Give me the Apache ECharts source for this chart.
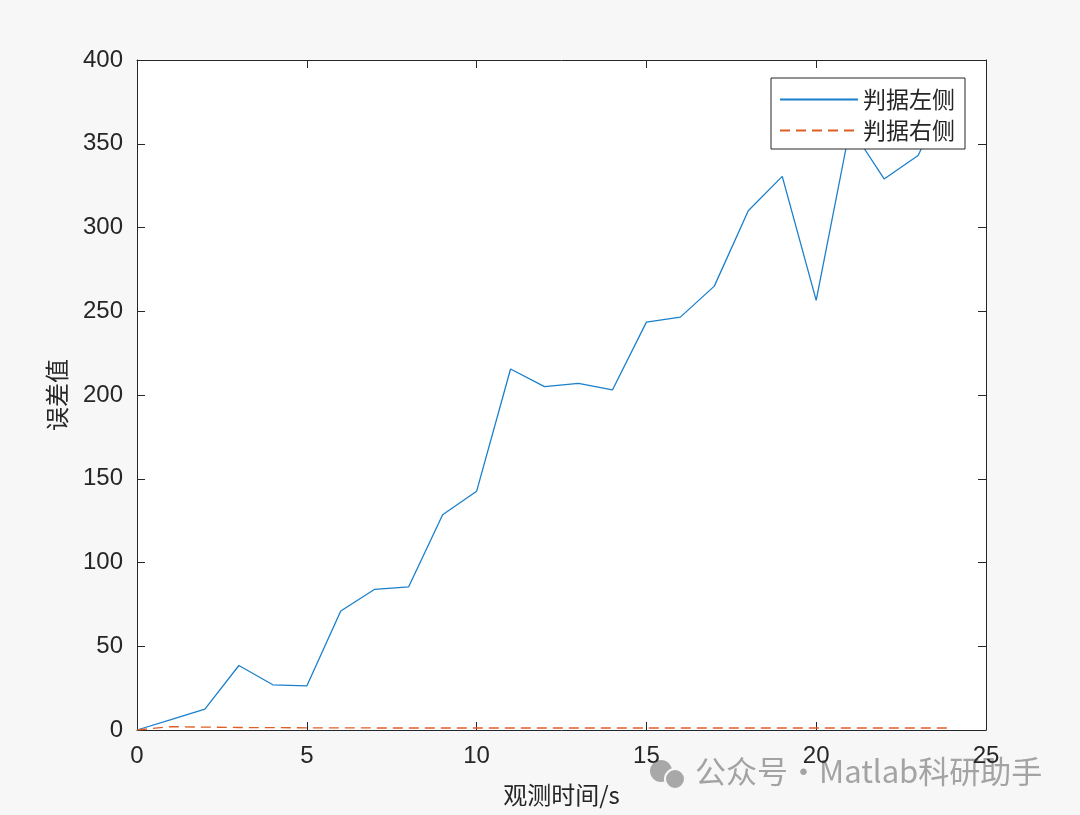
<!DOCTYPE html>
<html>
<head>
<meta charset="utf-8">
<script src="https://cdn.jsdelivr.net/npm/echarts@6/dist/echarts.min.js"></script>
<style>
  html, body { margin: 0; padding: 0; background: #f7f7f7; }
  #chart { width: 1080px; height: 815px; }
</style>
</head>
<body>
<div id="chart"></div>
<script>
// observation time (s)
const timeSteps = [0, 1, 2, 3, 4, 5, 6, 7, 8, 9, 10, 11, 12, 13, 14, 15, 16, 17, 18, 19, 20, 21, 22, 23, 24];
// error when judging from the left side
const leftError = [0, 6.2, 12.5, 38.5, 27, 26.3, 71, 84, 85.5, 128.5, 142.5, 215.5, 205, 207, 203, 243.5, 246.5, 265, 310, 330.5, 256.5, 360, 329, 343, 385];
// error when judging from the right side
const rightError = [0, 2.0, 1.7, 1.5, 1.4, 1.3, 1.3, 1.2, 1.2, 1.2, 1.2, 1.2, 1.2, 1.2, 1.2, 1.2, 1.2, 1.2, 1.2, 1.2, 1.2, 1.2, 1.2, 1.2, 1.2];
const seriesNames = ['判据左侧', '判据右侧'];
const xLabel = '观测时间/s';
const yLabel = '误差值';

const chart = echarts.init(document.getElementById('chart'), null, { renderer: 'canvas' });
const axisColor = '#262626';
const blue = '#1a80cc';
const orange = '#dd5f26';
const tickFont = { color: '#262626', fontSize: 24, fontFamily: 'Liberation Sans, Arial, sans-serif' };

const xBase = {
  type: 'value', min: 0, max: 25, interval: 5,
  axisLine: { show: true, onZero: false, lineStyle: { color: axisColor, width: 1 } },
  axisTick: { show: true, inside: true, length: 8, lineStyle: { color: axisColor } },
  splitLine: { show: false }
};
const yBase = {
  type: 'value', min: 0, max: 400, interval: 50,
  axisLine: { show: true, onZero: false, lineStyle: { color: axisColor, width: 1 } },
  axisTick: { show: true, inside: true, length: 8, lineStyle: { color: axisColor } },
  splitLine: { show: false }
};

chart.setOption({
  backgroundColor: '#f7f7f7',
  animation: false,
  grid: { left: 137, right: 94, top: 60, bottom: 85, show: true, backgroundColor: '#ffffff', borderWidth: 0 },
  xAxis: [
    Object.assign({}, xBase, {
      position: 'bottom',
      axisLabel: Object.assign({ margin: 14 }, tickFont),
      name: xLabel, nameLocation: 'middle', nameGap: 53,
      nameTextStyle: { color: '#262626', fontSize: 24, fontFamily: 'Noto Sans CJK SC' }
    }),
    Object.assign({}, xBase, { position: 'top', axisLabel: { show: false } })
  ],
  yAxis: [
    Object.assign({}, yBase, {
      position: 'left',
      axisLabel: Object.assign({ margin: 14 }, tickFont),
      name: yLabel, nameLocation: 'middle', nameGap: 68, nameRotate: 90,
      nameTextStyle: { color: '#262626', fontSize: 24, fontFamily: 'Noto Sans CJK SC' }
    }),
    Object.assign({}, yBase, { position: 'right', axisLabel: { show: false } })
  ],
  legend: {
    orient: 'vertical',
    left: 771, top: 78,
    padding: [10, 10, 7, 8],
    itemGap: 8,
    itemWidth: 78, itemHeight: 24,
    itemStyle: { opacity: 0 },
    backgroundColor: '#ffffff',
    borderColor: '#262626', borderWidth: 1,
    textStyle: { color: '#262626', fontSize: 23, fontFamily: 'Noto Sans CJK SC' },
    data: seriesNames
  },
  series: [
    {
      name: seriesNames[0], type: 'line', symbol: 'none',
      data: timeSteps.map((t, i) => [t, leftError[i]]),
      lineStyle: { color: blue, width: 1.3 },
      itemStyle: { color: blue }, z: 3
    },
    {
      name: seriesNames[1], type: 'line', symbol: 'none',
      data: timeSteps.map((t, i) => [t, rightError[i]]),
      lineStyle: { color: orange, width: 1.3, type: [10, 6] },
      itemStyle: { color: orange }, z: 4
    }
  ],
  graphic: [
    {
      type: 'group', left: 650, top: 756,
      children: [
        { type: 'circle', shape: { cx: 14, cy: 12, r: 11 }, style: { fill: '#a8a8a8' } },
        { type: 'circle', shape: { cx: 28, cy: 20, r: 10 }, style: { fill: '#a8a8a8', stroke: '#f7f7f7', lineWidth: 2 } },
        { type: 'text', left: 48, top: -3, style: { text: '公众号·Matlab科研助手', fill: '#a3a3a3', fontSize: 31, fontFamily: 'Noto Sans CJK SC' } }
      ]
    }
  ]
});
</script>
</body>
</html>
